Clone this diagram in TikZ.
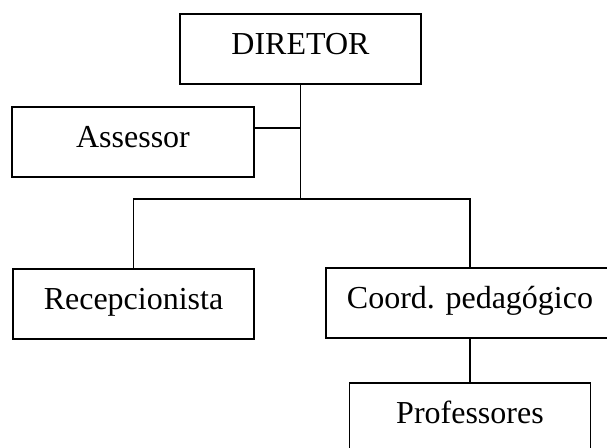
\documentclass[tikz,border=0pt]{standalone}
\usepackage{fontspec}
\setmainfont{Liberation Serif}
\usetikzlibrary{positioning}

\begin{document}
\begin{tikzpicture}[x=0.5pt, y=-0.5pt, line width=0.8pt,
        box/.style={draw, shape=rectangle, anchor=base, align=center,
            minimum width=120.5pt, inner xsep=0pt, inner ysep=0pt,
            text height=20pt, text depth=15pt,
            font=\fontsize{16}{19}\selectfont}]
        \useasboundingbox (0,0) rectangle (607,447);

        % Node definitions
        \node (diretor) [box] at (300.5,54) {DIRETOR};

        \node (assessor) [box, minimum width=121pt] at (133,147) {Assessor};

        \node (recep) [box] at (133.5,309) {Recepcionista};

        \node (coord) [box, minimum width=144pt] at (470,308) {Coord. pedag\'ogico};

        \node (prof) [box] at (470,423) {Professores};

        \coordinate (split) at (300.5,199);
        \coordinate (side) at ([yshift=-11pt]assessor.north east);

        % Connecting lines
        \draw (diretor.south) -- (split);
        \draw (side) -- (side -| diretor.south);
        \draw (recep.north) |- (split) -| (coord.north);
        \draw (coord.south) -- (prof.north);
    \end{tikzpicture}
\end{document}
